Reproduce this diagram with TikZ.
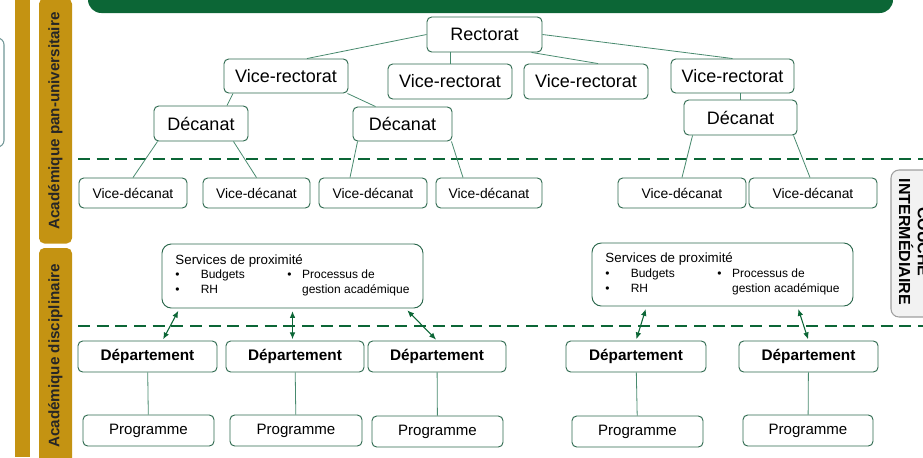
\documentclass[tikz,border=0pt]{standalone}
\usepackage{fontspec}
\setmainfont{Liberation Sans}
\usepackage{array}
\usetikzlibrary{arrows.meta}
\usetikzlibrary{calc}
\definecolor{vertfonce}{RGB}{12,102,54}
\definecolor{vertlien}{RGB}{72,138,110}
\definecolor{vertbord}{RGB}{45,105,78}
\definecolor{ocre}{RGB}{196,147,18}
\definecolor{grisbord}{RGB}{112,150,150}
\tikzset{>={Latex[length=1.8mm,width=1.5mm]}}
\def\px{0.75pt}
\tikzset{
  taille/.style 2 args={minimum width=#1*\px,minimum height=#2*\px},
  boite/.style={draw=vertbord,fill=white,line width=0.7pt,rounded corners=3.5pt,inner sep=0pt,align=center},
  grand/.style={boite,font=\fontsize{13.5}{16}\selectfont},
  petit/.style={boite,font=\fontsize{10.4}{12}\selectfont},
  dept/.style={boite,font=\fontsize{11.5}{14}\selectfont\bfseries},
  prog/.style={boite,font=\fontsize{11.3}{14}\selectfont},
  services/.style={boite,rounded corners=7pt,font=\fontsize{9}{11}\selectfont},
  lien/.style={draw=vertlien,line width=0.6pt},
  fleche/.style={<->,draw=vertfonce,line width=0.8pt,shorten <=2pt,shorten >=1pt},
  separation/.style={draw=vertfonce,line width=2.2pt,dash pattern=on 9pt off 5pt},
  bande/.style={fill=ocre,rounded corners=4pt,rotate=90,inner sep=0pt,font=\fontsize{11.4}{14}\selectfont\bfseries,text=black!85},
}
\newcommand\servicestxt{%
\begin{tabular}{@{}p{19pt}@{}p{65pt}@{}p{11pt}@{}l@{}}
\multicolumn{4}{@{}l@{}}{\fontsize{10}{12}\selectfont Services de proximité}\\
• & Budgets & • & Processus de\\
• & RH & & gestion académique
\end{tabular}}

\begin{document}
\begin{tikzpicture}[x=0.75pt,y=-0.75pt]
\useasboundingbox (0,0) rectangle (923,457);
\clip (0,0) rectangle (923,457);

\fill[vertfonce, rounded corners=10pt] (88,-30) rectangle (893,13);
\draw[grisbord, line width=0.8pt, rounded corners=5pt] (-40,38) rectangle (4,147);
\fill[ocre] (15,0) rectangle (30,457);
\node[bande, taille={245}{33}] (panu) at (55.5,121) {Académique pan-universitaire};
\node[bande, taille={216}{33}] (disc) at (55.5,356) {Académique disciplinaire};

\draw[separation] (78,159) -- (923,159);
\draw[separation] (78,326) -- (923,326);

\draw[draw=gray!75, fill=gray!10, line width=0.8pt, rounded corners=6pt] (891,170) rectangle (960,317);
\node[rotate=-90, align=center, font=\fontsize{12}{14}\selectfont\bfseries] (couche) at (914,242) {COUCHE\\INTERMÉDIAIRE};

\node[grand, taille={115}{35}] (rect) at (484.5,34.5) {Rectorat};
\node[grand, taille={124}{34}] (vr1) at (286,76) {Vice-rectorat};
\node[grand, taille={124}{35}] (vr2) at (450,81.5) {Vice-rectorat};
\node[grand, taille={124}{35}] (vr3) at (586,81.5) {Vice-rectorat};
\node[grand, taille={123}{34}] (vr4) at (732.5,76) {Vice-rectorat};
\node[grand, taille={94}{35}] (dec1) at (201,123.5) {Décanat};
\node[grand, taille={99}{34}] (dec2) at (402.5,124) {Décanat};
\node[grand, taille={113}{35}] (dec3) at (740.5,117.5) {Décanat};

\node[petit, taille={108}{30}] (vd1) at (133,193) {Vice-décanat};
\node[petit, taille={107}{30}] (vd2) at (256.5,193) {Vice-décanat};
\node[petit, taille={108}{30}] (vd3) at (373,193) {Vice-décanat};
\node[petit, taille={106}{30}] (vd4) at (489,193) {Vice-décanat};
\node[petit, taille={128}{30}] (vd5) at (682,193) {Vice-décanat};
\node[petit, taille={128}{30}] (vd6) at (813,193) {Vice-décanat};

\node[services, taille={261}{64}] (svc1) at (292.5,276) {\servicestxt};
\node[services, taille={261}{63}] (svc2) at (722.5,274.5) {\servicestxt};

\node[dept, taille={139}{31}] (dep1) at (147.5,356.5) {Département};
\node[dept, taille={138}{31}] (dep2) at (295,356.5) {Département};
\node[dept, taille={138}{31}] (dep3) at (437,356.5) {Département};
\node[dept, taille={140}{31}] (dep4) at (636,356.5) {Département};
\node[dept, taille={139}{31}] (dep5) at (808.5,356.5) {Département};

\node[prog, taille={131}{31}] (prog1) at (148.5,430.5) {Programme};
\node[prog, taille={132}{31}] (prog2) at (296,430.5) {Programme};
\node[prog, taille={131}{31}] (prog3) at (437.5,431.5) {Programme};
\node[prog, taille={131}{31}] (prog4) at (637.5,431.5) {Programme};
\node[prog, taille={130}{31}] (prog5) at (808,430.5) {Programme};

\draw[lien] (rect.west) -- ($(vr1.north)+(21,0)$);
\draw[lien] (vr2.north |- rect.south) -- (vr2.north);
\draw[lien] ($(rect.south)+(47,0)$) -- ($(vr3.north)+(12,0)$);
\draw[lien] (rect.east) -- (vr4.north);
\draw[lien] ($(vr1.south)+(-53,0)$) -- ($(dec1.north)+(26,0)$);
\draw[lien] ($(vr1.south east)+(-1,0)$) -- ($(dec2.north)+(-27,0)$);
\draw[lien] (dec3.north |- vr4.south) -- (dec3.north);
\draw[lien] ($(dec1.south west)+(4,0)$) -- (vd1.north);
\draw[lien] ($(dec1.south east)+(-15,0)$) -- (vd2.north);
\draw[lien] ($(dec2.south west)+(5,0)$) -- ($(vd3.north)+(-23,0)$);
\draw[lien] ($(dec2.south east)+(-1,0)$) -- ($(vd4.north)+(-26,0)$);
\draw[lien] ($(dec3.south west)+(9,0)$) -- (vd5.north);
\draw[lien] ($(dec3.south east)+(-4,0)$) -- ($(vd6.north)+(-3,0)$);

\draw[fleche] ($(svc1.south west)+(18,0)$) -- ($(dep1.north)+(15,0)$);
\draw[fleche] (svc1.south) -- (svc1.south |- dep2.north);
\draw[fleche] ($(svc1.south east)+(-18,0)$) -- (dep3.north);
\draw[fleche] ($(svc2.south west)+(55,0)$) -- (dep4.north);
\draw[fleche] ($(svc2.south east)+(-56,0)$) -- (dep5.north);

\draw[lien] (dep1) -- (prog1);
\draw[lien] (dep2) -- (prog2);
\draw[lien] (dep3) -- (prog3);
\draw[lien] (dep4) -- (prog4);
\draw[lien] (dep5) -- (prog5);

\end{tikzpicture}
\end{document}
